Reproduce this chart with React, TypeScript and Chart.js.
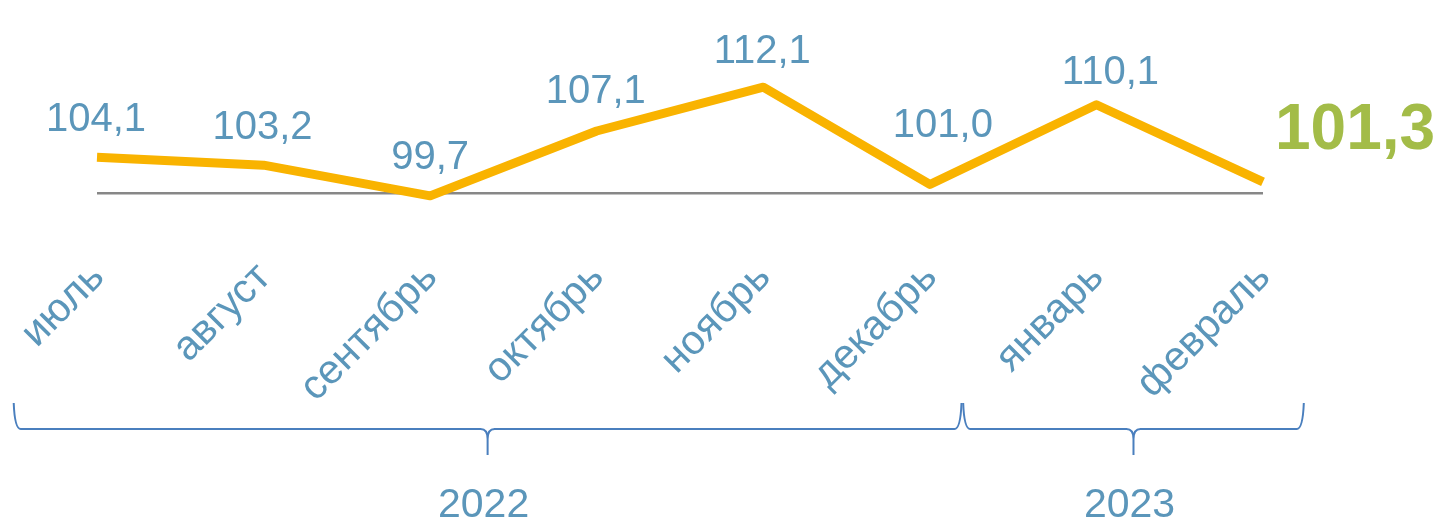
import { useEffect, useRef } from "react";
import { Chart, registerables } from "chart.js";

Chart.register(...registerables);

// ---- data ----
const months = ["июль", "август", "сентябрь", "октябрь", "ноябрь", "декабрь", "январь", "февраль"];
const values = [104.1, 103.2, 99.7, 107.1, 112.1, 101.0, 110.1, 101.3];
const valueLabels = ["104,1", "103,2", "99,7", "107,1", "112,1", "101,0", "110,1", "101,3"];
const baselineValue = 100;
const years = ["2022", "2023"];
// year brace spans, in category-index units (start, end)
const yearSpanStart = [-0.5, 5.2];
const yearSpanEnd = [5.19, 7.245];

// ---- style ----
const FONT = '"Liberation Sans", Arial, sans-serif';
const TEXT_BLUE = "#5b96ba";
const LINE_YELLOW = "#f9b300";
const GREEN = "#a3bc48";
const BRACE_BLUE = "#4a7fbe";
const AXIS_GRAY = "#878787";
// per-label offsets (dx, dy above point baseline)
const labelDx = [-1, -1, 0, -1, -1, 13, 14, 12];
const labelDy = [26, 26, 27, 28, 24, 47, 21, 33];

const overlayPlugin = {
  id: "overlay",
  beforeDatasetsDraw(chart: any) {
    const ctx = chart.ctx;
    const { left, right } = chart.chartArea;
    const y = chart.scales.y.getPixelForValue(baselineValue);
    ctx.save();
    ctx.strokeStyle = AXIS_GRAY;
    ctx.lineWidth = 2.5;
    ctx.beginPath();
    ctx.moveTo(left, y);
    ctx.lineTo(right, y);
    ctx.stroke();
    ctx.restore();
  },
  afterDatasetsDraw(chart: any) {
    const ctx = chart.ctx;
    const meta = chart.getDatasetMeta(0);
    const xs = chart.scales.x;
    ctx.save();
    // value labels
    meta.data.forEach((pt: any, i: number) => {
      const last = i === meta.data.length - 1;
      ctx.textBaseline = "alphabetic";
      if (last) {
        ctx.font = `bold 64px ${FONT}`;
        ctx.fillStyle = GREEN;
        ctx.textAlign = "left";
      } else {
        ctx.font = `40px ${FONT}`;
        ctx.fillStyle = TEXT_BLUE;
        ctx.textAlign = "center";
      }
      ctx.fillText(valueLabels[i], pt.x + labelDx[i], pt.y - labelDy[i]);
    });
    // category labels rotated
    ctx.font = `41px ${FONT}`;
    ctx.fillStyle = TEXT_BLUE;
    months.forEach((m, i) => {
      const x = xs.getPixelForValue(i);
      ctx.save();
      ctx.translate(x + 9, 279);
      ctx.rotate(-Math.PI / 4);
      ctx.textAlign = "right";
      ctx.textBaseline = "alphabetic";
      ctx.fillText(m, 0, 0);
      ctx.restore();
    });
    // braces + years
    const y0 = 403, y1 = 429, y2 = 455, r = 7;
    ctx.strokeStyle = BRACE_BLUE;
    ctx.lineWidth = 2;
    years.forEach((yr, k) => {
      const xl = xs.getPixelForValue(yearSpanStart[k]);
      const xr = xs.getPixelForValue(yearSpanEnd[k]);
      const xm = (xl + xr) / 2;
      ctx.beginPath();
      ctx.moveTo(xl, y0);
      ctx.quadraticCurveTo(xl + 1, y1, xl + r, y1);
      ctx.lineTo(xm - r, y1);
      ctx.quadraticCurveTo(xm, y1, xm, y1 + r + 3);
      ctx.lineTo(xm, y2);
      ctx.moveTo(xm, y1 + r + 3);
      ctx.quadraticCurveTo(xm, y1, xm + r, y1);
      ctx.lineTo(xr - r, y1);
      ctx.quadraticCurveTo(xr - 1, y1, xr, y0);
      ctx.stroke();
      ctx.font = `41px ${FONT}`;
      ctx.fillStyle = TEXT_BLUE;
      ctx.textAlign = "center";
      ctx.textBaseline = "alphabetic";
      ctx.fillText(yr, xm - 4, 517);
    });
    ctx.restore();
  },
};

export default function App() {
  const ref = useRef<HTMLCanvasElement | null>(null);
  useEffect(() => {
    if (!ref.current) return;
    const chart = new Chart(ref.current, {
      type: "line",
      data: {
        labels: months,
        datasets: [
          {
            data: values,
            borderColor: LINE_YELLOW,
            borderWidth: 9,
            pointRadius: 0,
            tension: 0,
            borderCapStyle: "butt",
            borderJoinStyle: "round",
            fill: false,
            clip: false as any,
          },
        ],
      },
      options: {
        responsive: false,
        animation: false,
        devicePixelRatio: 1,
        layout: { padding: { left: 97, right: 170, top: 18, bottom: 287 } },
        plugins: { legend: { display: false }, tooltip: { enabled: false } },
        scales: {
          x: { type: "category", display: false, offset: false },
          y: { display: false, min: 95, max: 120 },
        },
      },
      plugins: [overlayPlugin],
    });
    return () => chart.destroy();
  }, []);
  return (
    <div style={{ position: "absolute", left: 0, top: 0, width: 1433, height: 524, background: "#fff" }}>
      <canvas ref={ref} width={1433} height={524} />
    </div>
  );
}
